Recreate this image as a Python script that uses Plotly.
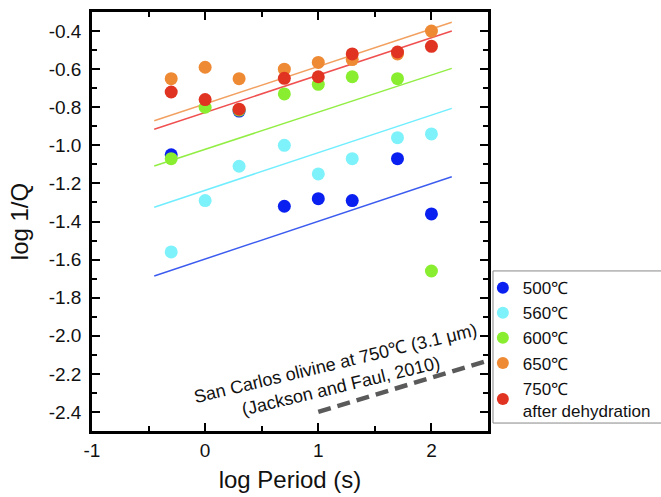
import plotly.graph_objects as go

# ---- data ----
log_period = [-0.3, 0.0, 0.3, 0.7, 1.0, 1.3, 1.7, 2.0]

q500 = [-1.05, None, -0.82, -1.32, -1.28, -1.29, -1.07, -1.36]
q560 = [-1.56, -1.29, -1.11, -1.00, -1.15, -1.07, -0.96, -0.94]
q600 = [-1.07, -0.80, -0.815, -0.73, -0.68, -0.64, -0.65, -1.66]
q650 = [-0.65, -0.59, -0.65, -0.60, -0.565, -0.55, -0.52, -0.40]
q750 = [-0.72, -0.76, -0.81, -0.648, -0.64, -0.52, -0.51, -0.48]

names = ["500℃", "560℃", "600℃", "650℃", "750℃<br>after dehydration"]
marker_colors = ["#0a20f0", "#7ef2fa", "#8aee30", "#ee8a33", "#e03322"]
line_colors = ["#3c5cf0", "#70eeff", "#92ee44", "#f05050", "#f2a060"]

# fitted trend lines (endpoints)
fit_x = [-0.45, 2.18]
fit500 = [-1.686, -1.165]
fit560 = [-1.325, -0.806]
fit600 = [-1.109, -0.596]
fit750 = [-0.916, -0.400]
fit650 = [-0.871, -0.354]

# Jackson and Faul (2010) reference line
jf_x = [1.0, 2.5]
jf_y = [-2.40, -2.13]

y_ticks = [-0.4, -0.6, -0.8, -1.0, -1.2, -1.4, -1.6, -1.8, -2.0, -2.2, -2.4]
y_ticktext = ["-0.4", "-0.6", "-0.8", "-1.0", "-1.2", "-1.4", "-1.6", "-1.8", "-2.0", "-2.2", "-2.4"]
x_ticks = [-1, 0, 1, 2]
x_ticktext = ["-1", "0", "1", "2"]

FONT = "Arial, Liberation Sans, sans-serif"

fig = go.Figure()

fits = [fit500, fit560, fit600, fit750, fit650]
for fy, c in zip(fits, line_colors):
    fig.add_trace(go.Scatter(x=fit_x, y=fy, mode="lines",
                             line=dict(color=c, width=1.5),
                             showlegend=False, hoverinfo="skip"))

fig.add_trace(go.Scatter(x=jf_x, y=jf_y, mode="lines",
                         line=dict(color="#5a5a5a", width=4.5, dash="13px,7px"),
                         showlegend=False, hoverinfo="skip"))

series = [q500, q560, q600, q650, q750]
for ys, nm, c in zip(series, names, marker_colors):
    fig.add_trace(go.Scatter(x=log_period, y=ys, mode="markers", name=nm,
                             marker=dict(color=c, size=13, line=dict(width=0))))

fig.add_annotation(x=1.18, y=-2.205, xref="x", yref="y",
                   text="San Carlos olivine at 750℃ (3.1 μm)<br>(Jackson and Faul, 2010)",
                   showarrow=False, textangle=-13.5,
                   font=dict(family=FONT, size=18, color="#111"))

# legend frame
fig.add_shape(type="rect", xref="paper", yref="paper",
              x0=1.0126, x1=1.44, y0=0.019, y1=0.382,
              line=dict(color="#888", width=1), fillcolor="rgba(0,0,0,0)")

axis_common = dict(showgrid=False, zeroline=False, showline=True, linecolor="black",
                   linewidth=2.5, mirror="ticks", ticks="inside", ticklen=8,
                   tickwidth=2, tickcolor="black",
                   tickfont=dict(family=FONT, size=19, color="#111"))

fig.update_xaxes(range=[-1, 2.5], tickvals=x_ticks, ticktext=x_ticktext,
                 minor=dict(dtick=0.5, ticks="inside", ticklen=5, tickwidth=2, tickcolor="black"),
                 title=dict(text="log Period (s)", font=dict(family=FONT, size=24, color="#111"), standoff=12),
                 **axis_common)
fig.update_yaxes(range=[-2.5, -0.3], tickvals=y_ticks, ticktext=y_ticktext,
                 ticklabelstandoff=4,
                 minor=dict(dtick=0.1, ticks="inside", ticklen=5, tickwidth=2, tickcolor="black"),
                 title=dict(text="log 1/Q", font=dict(family=FONT, size=24, color="#111"), standoff=14),
                 **axis_common)

fig.update_layout(
    width=661, height=497,
    margin=dict(l=92, r=173, t=12, b=66, autoexpand=False),
    paper_bgcolor="white", plot_bgcolor="white",
    font=dict(family=FONT, color="#111"),
    legend=dict(x=0.987, y=0.384, xanchor="left", yanchor="top",
                borderwidth=0, bgcolor="rgba(0,0,0,0)",
                font=dict(family=FONT, size=17, color="#111"),
                itemsizing="constant", tracegroupgap=0),
)

fig.write_html("out.html", config={"displayModeBar": False},
               post_script="document.body.style.margin='0';document.body.style.padding='0';")
